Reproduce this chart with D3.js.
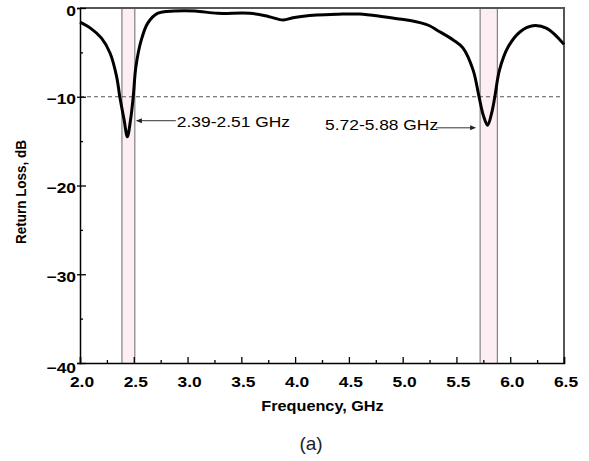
<!DOCTYPE html>
<html>
<head>
<meta charset="utf-8">
<script src="https://cdn.jsdelivr.net/npm/d3@7"></script>
<style>
  html, body { margin: 0; padding: 0; background: #fff; }
  svg { display: block; }
  text { font-family: "Liberation Sans", Arial, sans-serif; fill: #000; }
</style>
</head>
<body>
<svg id="chart" width="589" height="461"></svg>
<script>
// Measured return loss of the dual-band antenna (GHz, dB)
const freqGHz = [2.0, 2.1, 2.2, 2.28, 2.34, 2.37, 2.41, 2.44, 2.47, 2.495, 2.52, 2.57, 2.63, 2.72,
  2.88, 3.07, 3.28, 3.58, 3.75, 3.89, 3.98, 4.2, 4.4, 4.6, 4.82, 4.95, 5.07, 5.16, 5.25, 5.32,
  5.47, 5.56, 5.655, 5.71, 5.75, 5.79, 5.826, 5.857, 5.9, 5.98, 6.09, 6.21, 6.34, 6.5];
const returnLossDB = [-1.6, -2.3, -3.4, -5.1, -7.7, -10, -12.6, -14.5, -12.6, -10, -6.6, -3.6, -1.7, -0.6,
  -0.34, -0.34, -0.6, -0.6, -0.95, -1.35, -1.1, -0.8, -0.7, -0.68, -0.98, -1.2, -1.4, -1.65, -2.0, -2.5,
  -3.6, -4.5, -7.0, -10, -12.1, -13.2, -11.9, -10, -7.0, -4.4, -2.7, -2.0, -2.3, -4.1];

// Operating bands (GHz) and their labels
const bandStart = [2.39, 5.72];
const bandEnd = [2.51, 5.88];
const bandLabels = ["2.39-2.51 GHz", "5.72-5.88 GHz"];

// Axis ticks
const xMajorTicks = [2.0, 2.5, 3.0, 3.5, 4.0, 4.5, 5.0, 5.5, 6.0, 6.5];
const xMinorTicks = [2.25, 2.75, 3.25, 3.75, 4.25, 4.75, 5.25, 5.75, 6.25];
const yMajorTicks = [0, -10, -20, -30, -40];
const yMinorTicks = [-5, -15, -25, -35];
const threshold = -10;

const svg = d3.select("#chart");
const margin = { left: 80, top: 8, right: 25, bottom: 98 };
const W = 589, H = 461;
const iw = W - margin.left - margin.right;
const ih = H - margin.top - margin.bottom;
const SX = 1.2; // horizontal widening of the lettering

const x = d3.scaleLinear().domain([2.0, 6.5]).range([0, iw]);
const y = d3.scaleLinear().domain([-40, 0]).range([ih, 0]);

const g = svg.append("g").attr("transform", `translate(${margin.left},${margin.top})`);

// Band shading
const bands = bandStart.map((s, i) => ({ s, e: bandEnd[i], label: bandLabels[i] }));
g.selectAll("rect.band").data(bands).join("rect")
  .attr("class", "band")
  .attr("x", d => x(d.s)).attr("y", 0)
  .attr("width", d => x(d.e) - x(d.s)).attr("height", ih)
  .attr("fill", "#fdeef4");
bands.forEach(d => {
  [d.s, d.e].forEach(v => {
    g.append("line")
      .attr("x1", x(v)).attr("x2", x(v)).attr("y1", 0).attr("y2", ih)
      .attr("stroke", "#6a6a6a").attr("stroke-width", 1);
  });
});

// -10 dB reference line
g.append("line")
  .attr("x1", 0).attr("x2", iw).attr("y1", y(threshold)).attr("y2", y(threshold))
  .attr("stroke", "#555").attr("stroke-width", 1).attr("stroke-dasharray", "4,3");

// Frame (top and right)
g.append("path")
  .attr("d", `M0,0H${iw}V${ih}`)
  .attr("fill", "none").attr("stroke", "#555").attr("stroke-width", 2);

// Curve
const line = d3.line()
  .x((d, i) => x(freqGHz[i]))
  .y(d => y(d))
  .curve(d3.curveCatmullRom.alpha(0.5));
g.append("path")
  .datum(returnLossDB)
  .attr("d", line)
  .attr("fill", "none").attr("stroke", "#000").attr("stroke-width", 3)
  .attr("stroke-linejoin", "round");

// Axes
const xAxis = g.append("g").attr("transform", `translate(0,${ih})`)
  .call(d3.axisBottom(x).tickValues(xMajorTicks).tickSize(-6).tickFormat(d3.format(".1f")));
const xMinor = g.append("g").attr("transform", `translate(0,${ih})`)
  .call(d3.axisBottom(x).tickValues(xMinorTicks).tickSize(-3).tickFormat(""));
xMinor.select(".domain").remove();
xAxis.selectAll(".tick line").attr("y2", -6).attr("y1", 1);
xAxis.selectAll(".tick text")
  .attr("font-size", 14.5).attr("font-weight", "bold")
  .attr("y", 0).attr("dy", 0)
  .attr("transform", "translate(1.5,24) scale(" + SX + ",1)");

const yAxis = g.append("g")
  .call(d3.axisLeft(y).tickValues(yMajorTicks).tickSize(3).tickFormat(d3.format("d")));
const yMinor = g.append("g")
  .call(d3.axisLeft(y).tickValues(yMinorTicks).tickSize(-3).tickFormat(""));
yMinor.select(".domain").remove();
yAxis.selectAll(".tick line").attr("x1", -3).attr("x2", 6);
yAxis.selectAll(".tick text")
  .attr("font-size", 14.5).attr("font-weight", "bold")
  .attr("x", 0).attr("dy", 0)
  .attr("transform", d => `translate(-4,${d === -40 ? 9 : 7}) scale(${SX},1)`);

[xAxis, yAxis, xMinor, yMinor].forEach(a => {
  a.select(".domain").attr("stroke", "#000").attr("stroke-width", 1.5);
  a.selectAll(".tick line").attr("stroke", "#000").attr("stroke-width", 1.3);
});

// Band annotations with arrows
function arrow(x0, x1, yy) {
  const dir = Math.sign(x1 - x0);
  g.append("line")
    .attr("x1", x0).attr("x2", x1 - dir * 5).attr("y1", yy).attr("y2", yy)
    .attr("stroke", "#333").attr("stroke-width", 1);
  g.append("path")
    .attr("d", `M${x1},${yy}L${x1 - dir * 6},${yy - 2.5}L${x1 - dir * 6},${yy + 2.5}Z`)
    .attr("fill", "#222");
}
{
  const yy = y(-12.7);
  const tip = x(bandEnd[0]) + 1;
  const tx = tip + 41;
  arrow(tx - 1, tip, yy);
  g.append("text").attr("transform", `translate(${tx},${yy + 6}) scale(${SX},1)`)
    .attr("font-size", 14.5).text(bandLabels[0]);
}
{
  const yy = y(-13.5);
  const tip = x(bandStart[1]) - 4;
  const te = tip - 38;
  arrow(te - 2, tip, yy);
  g.append("text").attr("transform", `translate(${te},${yy + 2}) scale(${SX},1)`)
    .attr("text-anchor", "end").attr("font-size", 14.5).text(bandLabels[1]);
}

// Axis titles
svg.append("text")
  .attr("transform", `translate(${margin.left + iw / 2 + 0.5},411) scale(1.16,1)`)
  .attr("text-anchor", "middle").attr("font-size", 14).attr("font-weight", "bold")
  .text("Frequency, GHz");
svg.append("text")
  .attr("transform", `translate(26,192) scale(1.15,1) rotate(-90)`)
  .attr("text-anchor", "middle").attr("font-size", 13.5).attr("font-weight", "bold")
  .text("Return Loss, dB");

// Panel label
svg.append("text")
  .attr("x", 311).attr("y", 450)
  .attr("text-anchor", "middle")
  .attr("font-family", "'Noto Sans', sans-serif").attr("font-weight", 300)
  .attr("font-size", 19).style("fill", "#222")
  .text("(a)");
</script>
</body>
</html>
